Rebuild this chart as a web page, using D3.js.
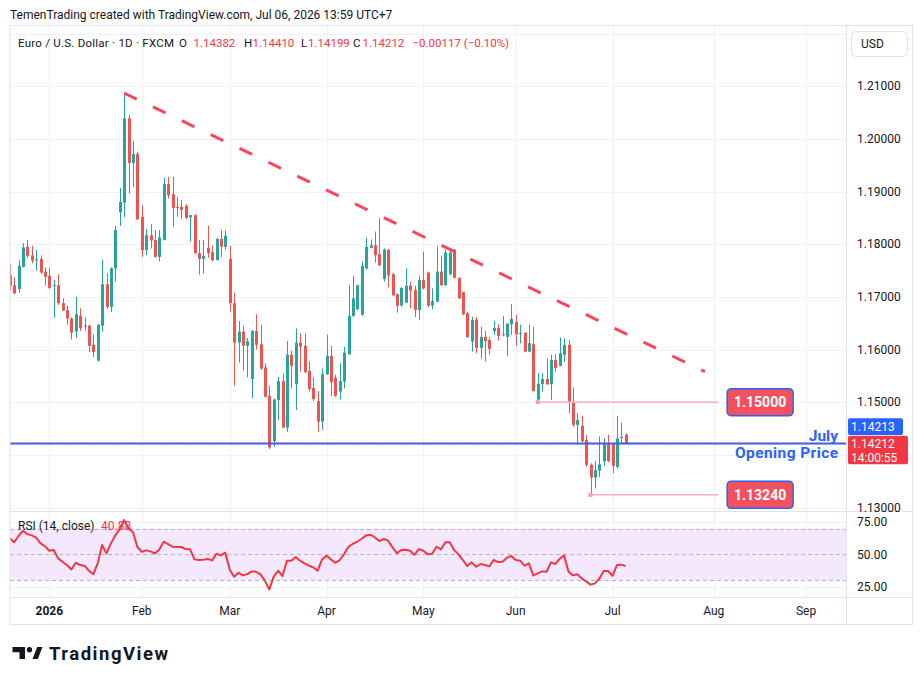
<!DOCTYPE html>
<html>
<head>
<meta charset="utf-8">
<script src="https://cdn.jsdelivr.net/npm/d3@7"></script>
<style>
  body { margin: 0; background: #fff; }
  svg text { font-family: Roboto, "Liberation Sans", sans-serif; }
</style>
</head>
<body>
<div id="chart"></div>
<script>
// EUR/USD daily candles, 18 Dec 2025 .. 6 Jul 2026 -> [open, high, low, close]
const candles = [
  [1.1741, 1.1762, 1.1713, 1.1721], [1.1722, 1.1737, 1.1705, 1.1707], [1.1715, 1.1770, 1.1708, 1.1759],
  [1.1757, 1.1802, 1.1756, 1.1794], [1.1795, 1.1808, 1.1774, 1.1778], [1.1779, 1.1797, 1.1764, 1.1769],
  [1.1770, 1.1789, 1.1750, 1.1771], [1.1772, 1.1779, 1.1744, 1.1746], [1.1748, 1.1756, 1.1721, 1.1738],
  [1.1740, 1.1755, 1.1715, 1.1717], [1.1721, 1.1732, 1.1660, 1.1722], [1.1722, 1.1743, 1.1685, 1.1688],
  [1.1688, 1.1697, 1.1673, 1.1674], [1.1675, 1.1683, 1.1647, 1.1659], [1.1659, 1.1661, 1.1619, 1.1632],
  [1.1634, 1.1700, 1.1622, 1.1667], [1.1664, 1.1678, 1.1635, 1.1641], [1.1644, 1.1661, 1.1636, 1.1645],
  [1.1645, 1.1647, 1.1595, 1.1607], [1.1609, 1.1628, 1.1586, 1.1595], [1.1579, 1.1648, 1.1577, 1.1647],
  [1.1645, 1.1770, 1.1634, 1.1724], [1.1724, 1.1745, 1.1678, 1.1681], [1.1681, 1.1756, 1.1671, 1.1754],
  [1.1754, 1.1835, 1.1729, 1.1827], [1.1860, 1.1907, 1.1835, 1.1880], [1.1879, 1.2087, 1.1851, 1.2039],
  [1.2039, 1.2045, 1.1896, 1.1954], [1.1954, 1.1996, 1.1908, 1.1971], [1.1971, 1.1975, 1.1846, 1.1847],
  [1.1852, 1.1874, 1.1776, 1.1789], [1.1789, 1.1829, 1.1779, 1.1817], [1.1817, 1.1838, 1.1792, 1.1807],
  [1.1808, 1.1827, 1.1775, 1.1776], [1.1776, 1.1827, 1.1767, 1.1813], [1.1808, 1.1926, 1.1807, 1.1914],
  [1.1914, 1.1928, 1.1887, 1.1893], [1.1895, 1.1928, 1.1833, 1.1869], [1.1871, 1.1890, 1.1852, 1.1869],
  [1.1871, 1.1884, 1.1848, 1.1865], [1.1873, 1.1876, 1.1848, 1.1850], [1.1851, 1.1856, 1.1805, 1.1855],
  [1.1855, 1.1857, 1.1782, 1.1783], [1.1783, 1.1808, 1.1742, 1.1772], [1.1772, 1.1808, 1.1744, 1.1778],
  [1.1793, 1.1835, 1.1774, 1.1783], [1.1785, 1.1797, 1.1767, 1.1770], [1.1770, 1.1812, 1.1769, 1.1810],
  [1.1810, 1.1827, 1.1776, 1.1795], [1.1795, 1.1827, 1.1789, 1.1816], [1.1772, 1.1797, 1.1672, 1.1688],
  [1.1688, 1.1708, 1.1531, 1.1613], [1.1613, 1.1654, 1.1575, 1.1634], [1.1634, 1.1645, 1.1560, 1.1607],
  [1.1607, 1.1622, 1.1547, 1.1616], [1.1544, 1.1637, 1.1508, 1.1635], [1.1635, 1.1667, 1.1600, 1.1609],
  [1.1610, 1.1647, 1.1561, 1.1564], [1.1566, 1.1574, 1.1509, 1.1510], [1.1512, 1.1531, 1.1411, 1.1414],
  [1.1426, 1.1507, 1.1415, 1.1505], [1.1504, 1.1548, 1.1466, 1.1540], [1.1540, 1.1555, 1.1451, 1.1452],
  [1.1452, 1.1616, 1.1444, 1.1590], [1.1590, 1.1598, 1.1526, 1.1569], [1.1535, 1.1640, 1.1485, 1.1613],
  [1.1613, 1.1631, 1.1558, 1.1605], [1.1607, 1.1631, 1.1555, 1.1557], [1.1559, 1.1577, 1.1520, 1.1525],
  [1.1527, 1.1547, 1.1502, 1.1506], [1.1502, 1.1521, 1.1444, 1.1463], [1.1463, 1.1564, 1.1447, 1.1553],
  [1.1553, 1.1628, 1.1552, 1.1588], [1.1588, 1.1607, 1.1512, 1.1538], [1.1546, 1.1552, 1.1510, 1.1512],
  [1.1520, 1.1574, 1.1505, 1.1540], [1.1539, 1.1605, 1.1526, 1.1594], [1.1591, 1.1722, 1.1590, 1.1664],
  [1.1664, 1.1740, 1.1662, 1.1697], [1.1677, 1.1723, 1.1675, 1.1722], [1.1666, 1.1767, 1.1664, 1.1759],
  [1.1754, 1.1813, 1.1752, 1.1795], [1.1793, 1.1809, 1.1792, 1.1798], [1.1798, 1.1824, 1.1765, 1.1779],
  [1.1781, 1.1849, 1.1758, 1.1760], [1.1734, 1.1792, 1.1729, 1.1790], [1.1789, 1.1791, 1.1718, 1.1741],
  [1.1743, 1.1745, 1.1701, 1.1703], [1.1705, 1.1707, 1.1670, 1.1683], [1.1684, 1.1718, 1.1681, 1.1717],
  [1.1689, 1.1754, 1.1688, 1.1721], [1.1721, 1.1729, 1.1678, 1.1712], [1.1713, 1.1721, 1.1662, 1.1675],
  [1.1675, 1.1740, 1.1656, 1.1732], [1.1732, 1.1786, 1.1714, 1.1716], [1.1746, 1.1748, 1.1681, 1.1683],
  [1.1684, 1.1716, 1.1676, 1.1692], [1.1691, 1.1797, 1.1690, 1.1748], [1.1748, 1.1778, 1.1721, 1.1722],
  [1.1722, 1.1789, 1.1721, 1.1784], [1.1743, 1.1789, 1.1741, 1.1784], [1.1789, 1.1791, 1.1735, 1.1736],
  [1.1736, 1.1737, 1.1696, 1.1697], [1.1709, 1.1710, 1.1665, 1.1667], [1.1669, 1.1672, 1.1622, 1.1624],
  [1.1615, 1.1662, 1.1596, 1.1656], [1.1657, 1.1662, 1.1593, 1.1603], [1.1603, 1.1643, 1.1583, 1.1624],
  [1.1624, 1.1635, 1.1577, 1.1616], [1.1618, 1.1623, 1.1590, 1.1601], [1.1635, 1.1654, 1.1628, 1.1641],
  [1.1641, 1.1648, 1.1617, 1.1626], [1.1629, 1.1664, 1.1625, 1.1627], [1.1624, 1.1650, 1.1588, 1.1649],
  [1.1648, 1.1686, 1.1628, 1.1658], [1.1652, 1.1666, 1.1607, 1.1629], [1.1630, 1.1647, 1.1612, 1.1631],
  [1.1632, 1.1633, 1.1595, 1.1596], [1.1596, 1.1647, 1.1595, 1.1612], [1.1610, 1.1643, 1.1520, 1.1521],
  [1.1505, 1.1555, 1.1500, 1.1535], [1.1534, 1.1555, 1.1520, 1.1544], [1.1544, 1.1583, 1.1533, 1.1534],
  [1.1534, 1.1590, 1.1504, 1.1580], [1.1580, 1.1591, 1.1558, 1.1565], [1.1569, 1.1623, 1.1568, 1.1593],
  [1.1590, 1.1621, 1.1576, 1.1609], [1.1609, 1.1618, 1.1479, 1.1501], [1.1501, 1.1528, 1.1453, 1.1457],
  [1.1457, 1.1479, 1.1419, 1.1466], [1.1455, 1.1474, 1.1424, 1.1426], [1.1428, 1.1438, 1.1377, 1.1381],
  [1.1381, 1.1384, 1.1324, 1.1357], [1.1357, 1.1388, 1.1336, 1.1371], [1.1370, 1.1435, 1.1358, 1.1382],
  [1.1388, 1.1432, 1.1379, 1.1423], [1.1423, 1.1438, 1.1386, 1.1388], [1.1422, 1.1422, 1.1365, 1.1379],
  [1.1377, 1.1474, 1.1374, 1.1431], [1.1433, 1.1461, 1.1422, 1.1434], [1.14382, 1.14410, 1.14199, 1.14212]
];

// RSI(14, close), one value per candle
const rsiValues = [
  62.4, 59.3, 64.2, 68.3, 65.7, 64.7, 63.0, 58.5, 56.4, 52.8,
  53.3, 46.9, 44.3, 41.7, 38.3, 43.5, 41.7, 41.2, 37.3, 34.7,
  43.0, 57.2, 50.7, 58.5, 64.7, 69.4, 76.6, 70.1, 67.3, 55.9,
  52.0, 53.1, 52.3, 50.7, 53.8, 59.8, 58.0, 55.9, 55.7, 55.7,
  54.1, 53.9, 46.1, 45.6, 45.8, 46.4, 45.3, 50.5, 49.2, 51.3,
  38.3, 32.7, 35.8, 33.7, 34.7, 36.8, 36.5, 34.5, 29.6, 22.8,
  32.7, 37.3, 33.2, 45.1, 45.1, 47.9, 45.1, 43.0, 41.2, 39.9,
  37.3, 46.1, 48.9, 46.1, 43.5, 45.6, 50.2, 55.9, 58.2, 59.8,
  62.1, 64.7, 65.2, 63.1, 60.3, 61.9, 60.6, 55.4, 51.0, 53.3,
  53.6, 52.8, 49.7, 54.1, 52.8, 50.0, 50.5, 55.9, 53.8, 59.3,
  59.3, 53.3, 50.0, 45.6, 40.9, 43.8, 40.4, 42.5, 41.7, 40.7,
  45.6, 44.0, 44.3, 47.4, 48.7, 45.6, 45.1, 41.2, 43.0, 33.7,
  35.3, 36.8, 36.5, 43.8, 42.5, 46.6, 49.2, 36.5, 33.7, 34.5,
  31.4, 29.0, 26.5, 27.5, 31.1, 37.1, 37.1, 33.4, 41.7, 42.0,
  40.88
];

const firstDay = "2025-12-18";
const lastAxisDay = "2026-09-30";
const holidays = ["2025-12-25", "2026-01-01"];
const monthKeys = ["2026-01", "2026-02", "2026-03", "2026-04", "2026-05", "2026-06", "2026-07", "2026-08", "2026-09"];
const monthLabels = ["2026", "Feb", "Mar", "Apr", "May", "Jun", "Jul", "Aug", "Sep"];
const priceGrid = [1.13, 1.14, 1.15, 1.16, 1.17, 1.18, 1.19, 1.20, 1.21, 1.22];
const priceLabels = [1.13, 1.15, 1.16, 1.17, 1.18, 1.19, 1.20, 1.21];
const rsiGrid = [75, 25];
const rsiLabels = [75, 50, 25];
const rsiLevels = [70, 50, 30];

const trendStart = { date: "2026-01-27", price: 1.2087 };
const trendEnd = { date: "2026-07-30", price: 1.1558 };
const levels = [
  { price: 1.15, from: "2026-06-08", to: "2026-08-04", label: "1.15000" },
  { price: 1.1324, from: "2026-06-24", to: "2026-08-04", label: "1.13240" }
];
const julyOpen = 1.14213;
const lastClose = 1.14212;
const countdown = "14:00:55";

const headerParts = [
  { t: "Euro / U.S. Dollar · 1D · FXCM", x: 18, c: "#131722", w: 156 },
  { t: "O", x: 179, c: "#131722" }, { t: "1.14382", x: 193.5, c: "#f23645" },
  { t: "H", x: 244, c: "#131722" }, { t: "1.14410", x: 252.5, c: "#f23645" },
  { t: "L", x: 301, c: "#131722" }, { t: "1.14199", x: 308, c: "#f23645" },
  { t: "C", x: 353, c: "#131722" }, { t: "1.14212", x: 362.5, c: "#f23645" },
  { t: "\u22120.00117 (\u22120.10%)", x: 412.5, c: "#f23645" }
];

// ---- layout
const paneL = 10, paneR = 846.5, frameR = 912.5;
const mainT = 25.5, mainB = 511.5, rsiB = 597.5, frameB = 624.5;
const up = "#26a69a", down = "#ef5350";
const gridC = "#eef1f6", borderC = "#e0e3eb", textC = "#131722";

function tradingDays(start, end) {
  const out = [];
  const d = new Date(start + "T00:00:00Z");
  const stop = new Date(end + "T00:00:00Z");
  while (d <= stop) {
    const iso = d.toISOString().slice(0, 10);
    const wd = d.getUTCDay();
    if (wd !== 0 && wd !== 6 && !holidays.includes(iso)) out.push(iso);
    d.setUTCDate(d.getUTCDate() + 1);
  }
  return out;
}
const days = tradingDays(firstDay, lastAxisDay);
const dayIdx = iso => days.indexOf(iso);

const x = d3.scaleLinear().domain([0, candles.length - 1]).range([9.7, 9.7 + 4.4 * (candles.length - 1)]);
const y = d3.scaleLinear().domain([1.13, 1.21]).range([507.5, 86.2]);
const yr = d3.scaleLinear().domain([25, 75]).range([586.6, 522.1]);

const svg = d3.select("#chart").append("svg")
  .attr("width", 923).attr("height", 685)
  .style("display", "block");

const defs = svg.append("defs");
defs.append("clipPath").attr("id", "mainClip").append("rect")
  .attr("x", paneL).attr("y", mainT).attr("width", paneR - paneL).attr("height", mainB - mainT);
defs.append("clipPath").attr("id", "rsiClip").append("rect")
  .attr("x", paneL).attr("y", mainB).attr("width", paneR - paneL).attr("height", rsiB - mainB);

svg.append("rect").attr("width", 923).attr("height", 685).attr("fill", "#fff");

// top caption
svg.append("text").attr("x", 10).attr("y", 18.5)
  .attr("font-size", 12).attr("fill", textC)
  .text("TemenTrading created with TradingView.com, Jul 06, 2026 13:59 UTC+7");

// grid
const monthIdx = monthKeys.map(k => days.findIndex(d => d.startsWith(k)));
const grid = svg.append("g");
grid.selectAll("line.vg").data(monthIdx).join("line")
  .attr("x1", d => Math.round(x(d)) + 0.5).attr("x2", d => Math.round(x(d)) + 0.5)
  .attr("y1", mainT).attr("y2", rsiB)
  .attr("stroke", gridC).attr("stroke-width", 1);
grid.selectAll("line.hg").data(priceGrid).join("line")
  .attr("x1", paneL).attr("x2", paneR)
  .attr("y1", d => Math.round(y(d)) + 0.5).attr("y2", d => Math.round(y(d)) + 0.5)
  .attr("stroke", gridC);

// header row
const hdr = svg.append("g").attr("font-size", 11.5);
hdr.selectAll("text").data(headerParts).join("text")
  .attr("x", d => d.x).attr("y", 46.5).attr("fill", d => d.c)
  .attr("textLength", d => d.w || null)
  .text(d => d.t);

// candles
const cg = svg.append("g").attr("clip-path", "url(#mainClip)");
const col = d => d[3] >= d[0] ? up : down;
cg.selectAll("line.wick").data(candles).join("line")
  .attr("x1", (d, i) => Math.round(x(i)) + 0.5).attr("x2", (d, i) => Math.round(x(i)) + 0.5)
  .attr("y1", d => y(d[1])).attr("y2", d => y(d[2]))
  .attr("stroke", col).attr("stroke-width", 1);
cg.selectAll("rect.body").data(candles).join("rect")
  .attr("x", (d, i) => Math.round(x(i)) - 1)
  .attr("width", 3)
  .attr("y", d => y(Math.max(d[0], d[3])))
  .attr("height", d => Math.max(1, Math.abs(y(d[0]) - y(d[3]))))
  .attr("fill", col);

// trend line
const tl = svg.append("g").attr("clip-path", "url(#mainClip)");
tl.append("line")
  .attr("x1", x(dayIdx(trendStart.date))).attr("y1", y(trendStart.price))
  .attr("x2", x(dayIdx(trendEnd.date))).attr("y2", y(trendEnd.price))
  .attr("stroke", "#f24a5c").attr("stroke-width", 3)
  .attr("stroke-dasharray", "14 18");

// horizontal levels with labels
const lv = svg.append("g");
levels.forEach(l => {
  const x0 = x(dayIdx(l.from)), x1 = x(dayIdx(l.to)), yy = y(l.price);
  lv.append("line").attr("x1", x0).attr("x2", x1).attr("y1", yy).attr("y2", yy)
    .attr("stroke", "#f7aeb4").attr("stroke-width", 1.5);
  lv.append("rect").attr("x", x0 - 2).attr("y", yy - 2).attr("width", 4).attr("height", 4)
    .attr("fill", "#f5a0a8");
  lv.append("rect").attr("x", x1 + 9).attr("y", yy - 13.5).attr("width", 66).attr("height", 27)
    .attr("rx", 4).attr("fill", "#f4515e").attr("stroke", "#2962ff").attr("stroke-width", 1.5);
  lv.append("text").attr("x", x1 + 42).attr("y", yy).attr("dy", "0.36em")
    .attr("text-anchor", "middle").attr("font-size", 14).attr("font-weight", "bold")
    .attr("fill", "#fff").text(l.label);
});

// July opening price line
const jo = y(julyOpen);
svg.append("line").attr("x1", paneL).attr("x2", paneR).attr("y1", jo).attr("y2", jo)
  .attr("stroke", "#2962ff").attr("stroke-width", 2);
svg.append("line").attr("x1", paneL).attr("x2", paneR).attr("y1", y(lastClose)).attr("y2", y(lastClose))
  .attr("stroke", "#f23645").attr("stroke-width", 1).attr("stroke-dasharray", "1 2");
svg.append("text").attr("x", 838).attr("y", jo - 3).attr("text-anchor", "end")
  .attr("font-size", 15.5).attr("font-weight", "bold").attr("fill", "#2962ff").text("July");
svg.append("text").attr("x", 838).attr("y", jo + 14.5).attr("text-anchor", "end")
  .attr("font-size", 15.5).attr("font-weight", "bold").attr("fill", "#2962ff")
  .attr("textLength", 103).text("Opening Price");

// RSI pane
const rs = svg.append("g");
rs.append("rect").attr("x", paneL).attr("width", paneR - paneL)
  .attr("y", yr(70)).attr("height", yr(30) - yr(70)).attr("fill", "#f4e9fc");
rs.selectAll("line.rg").data(rsiGrid).join("line")
  .attr("x1", paneL).attr("x2", paneR)
  .attr("y1", d => Math.round(yr(d)) + 0.5).attr("y2", d => Math.round(yr(d)) + 0.5)
  .attr("stroke", gridC);
rs.selectAll("line.rl").data(rsiLevels).join("line")
  .attr("x1", paneL).attr("x2", paneR)
  .attr("y1", d => Math.round(yr(d)) + 0.5).attr("y2", d => Math.round(yr(d)) + 0.5)
  .attr("stroke", "#b2b5be").attr("stroke-dasharray", "4 3");
rs.append("path").datum(rsiValues)
  .attr("clip-path", "url(#rsiClip)")
  .attr("d", d3.line().x((d, i) => x(i)).y(d => yr(d)))
  .attr("fill", "none").attr("stroke", "#f23645").attr("stroke-width", 2)
  .attr("stroke-linejoin", "round");
rs.append("text").attr("x", 18).attr("y", 530).attr("font-size", 12).attr("fill", textC)
  .text("RSI (14, close)");
rs.append("text").attr("x", 101).attr("y", 530).attr("font-size", 12).attr("fill", "#f23645")
  .text(rsiValues[rsiValues.length - 1].toFixed(2));

// frame and separators
const fr = svg.append("g").attr("stroke", borderC).attr("fill", "none");
fr.append("rect").attr("x", paneL).attr("y", mainT).attr("width", frameR - paneL).attr("height", frameB - mainT);
fr.append("line").attr("x1", paneL).attr("x2", frameR).attr("y1", mainB).attr("y2", mainB);
fr.append("line").attr("x1", paneL).attr("x2", frameR).attr("y1", rsiB).attr("y2", rsiB);
fr.append("line").attr("x1", paneR).attr("x2", paneR).attr("y1", mainT).attr("y2", frameB);

// price axis
const pa = svg.append("g").attr("font-size", 12).attr("fill", textC);
pa.selectAll("text").data(priceLabels).join("text")
  .attr("x", 857).attr("y", d => y(d)).attr("dy", "0.35em")
  .text(d => d.toFixed(5));
pa.selectAll("text.r").data(rsiLabels).join("text")
  .attr("x", 857).attr("y", d => yr(d)).attr("dy", "0.35em")
  .text(d => d.toFixed(2));

const lc = y(lastClose);
const redTop = lc - 8;
svg.append("rect").attr("x", 848).attr("y", redTop).attr("width", 60).attr("height", 28.5)
  .attr("rx", 2).attr("fill", "#f23645");
svg.append("text").attr("x", 851).attr("y", lc).attr("dy", "0.35em").attr("font-size", 12)
  .attr("fill", "#fff").text(lastClose.toFixed(5));
svg.append("text").attr("x", 851).attr("y", lc + 14).attr("dy", "0.35em").attr("font-size", 12)
  .attr("fill", "#fff").text(countdown);
svg.append("rect").attr("x", 848).attr("y", redTop - 17.3).attr("width", 55).attr("height", 16.6)
  .attr("rx", 2).attr("fill", "#2962ff");
svg.append("text").attr("x", 851).attr("y", redTop - 9).attr("dy", "0.35em").attr("font-size", 12)
  .attr("fill", "#fff").text(julyOpen.toFixed(5));

// USD button
svg.append("rect").attr("x", 851.5).attr("y", 31.5).attr("width", 56).attr("height", 25)
  .attr("rx", 4).attr("fill", "#fff").attr("stroke", borderC);
svg.append("text").attr("x", 861).attr("y", 44).attr("dy", "0.35em").attr("font-size", 12)
  .attr("fill", textC).text("USD");

// time axis
svg.append("g").selectAll("text").data(monthIdx).join("text")
  .attr("x", d => x(d)).attr("y", 611).attr("dy", "0.35em")
  .attr("text-anchor", "middle").attr("font-size", 12).attr("fill", textC)
  .attr("font-weight", (d, i) => i === 0 ? "bold" : "normal")
  .text((d, i) => monthLabels[i]);

// TradingView logo
const logo = svg.append("g").attr("fill", textC);
logo.append("path").attr("d", "M12.5 647 H25 V659 H19.5 V652.3 H12.5 Z");
logo.append("circle").attr("cx", 29.5).attr("cy", 649.7).attr("r", 2.7);
logo.append("path").attr("d", "M32.5 659 L37.2 647 H42.5 L37.8 659 Z");
logo.append("text").attr("x", 49).attr("y", 659.5).attr("font-size", 18.5).attr("font-weight", "bold")
  .attr("textLength", 119).text("TradingView");
</script>
</body>
</html>
